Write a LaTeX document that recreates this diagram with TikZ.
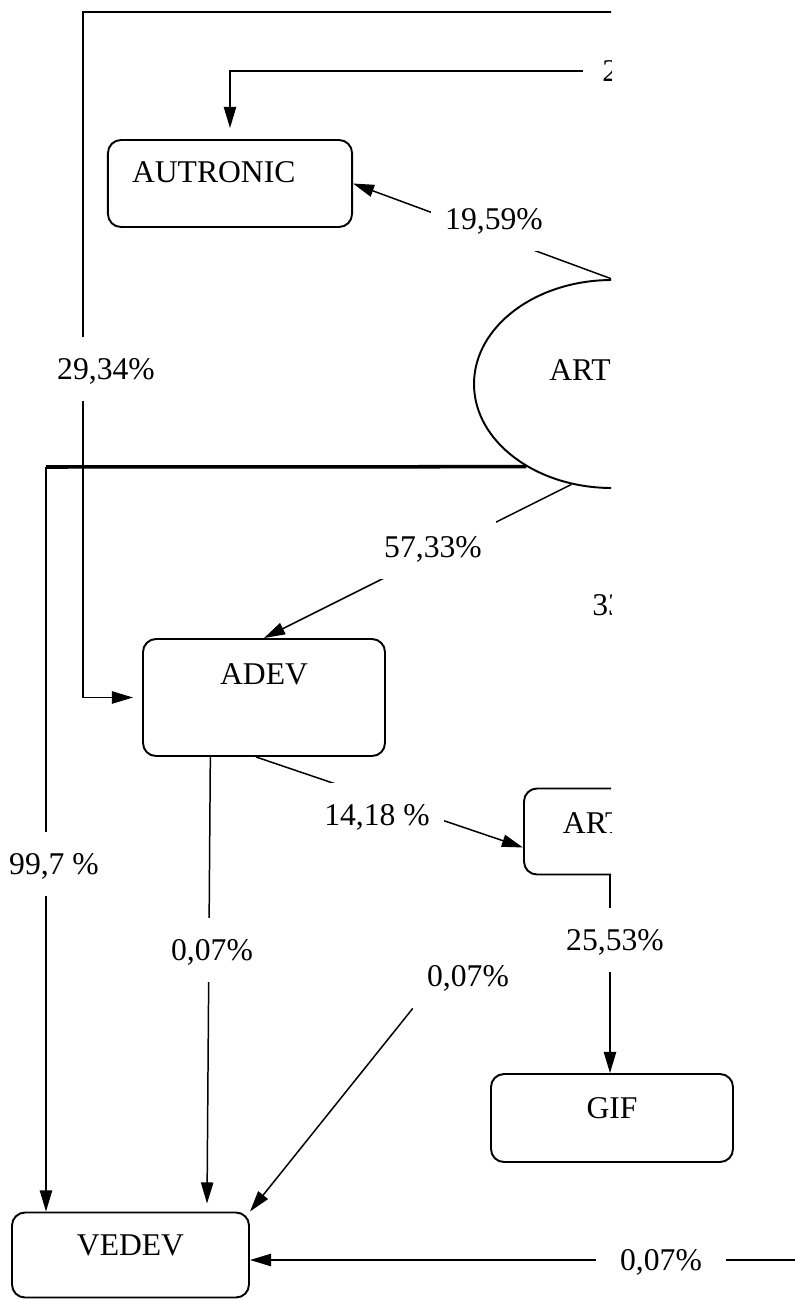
\documentclass[tikz,border=0pt]{standalone}
\usepackage{fontspec}
\setmainfont{Liberation Serif}
\usetikzlibrary{arrows.meta, calc, shapes.geometric}

\begin{document}
\begin{tikzpicture}[x=0.2mm, y=-0.2mm,
    every node/.style={font=\fontsize{18}{22}\selectfont},
    box/.style={draw, rounded corners=2.6mm, line width=1.1pt, text height=12.5pt, text depth=12.5pt},
    lbl/.style={fill=white, inner xsep=8pt, inner ysep=12pt, text height=12.5pt, text depth=0pt},
    arr/.style={-{Triangle[length=12pt, width=7pt]}, line width=0.85pt}]
    \useasboundingbox (0,0) rectangle (795,1299);
    \begin{scope}
        \clip (0,0) rectangle (611,905) (0,905) rectangle (795,1299);
        % Boxes
        \node[box, minimum width=48.8mm, minimum height=17.4mm, align=left, text width=111.5pt, inner xsep=13.7pt, text depth=13.1pt] (autronic) at (230,183.5) {AUTRONIC};
        \node[box, minimum width=48.4mm, minimum height=23.4mm, text depth=27pt] (adev) at (264,697.5) {ADEV};
        \node[box, minimum width=34.4mm, minimum height=17.2mm, align=left, text width=53.5pt, inner xsep=22.2pt, text depth=10.8pt] (artb) at (610,831.5) {ART};
        \node[box, minimum width=48.4mm, minimum height=17.6mm] (gif) at (612,1118) {GIF};
        \node[box, minimum width=47.4mm, minimum height=17mm] (vedev) at (130.5,1255) {VEDEV};
        \node[ellipse, draw, line width=1.1pt, minimum width=55.2mm, minimum height=41.6mm] (art) at (612,384) {};
        \node[anchor=west, inner sep=0pt] (arttext) at (549,370) {ART};
        % Free labels
        \node[lbl, anchor=west, inner xsep=10.8pt] (l2) at (583,71) {2};
        \node[anchor=west, inner sep=0pt] (l33) at (592,605) {33};
        \node[lbl] (l007b) at (468,976) {0,07\%};
        \coordinate (topsrc) at (700,12);
        \coordinate (ctl) at (83,12);
        \coordinate (c1) at (46,467);
        \coordinate (botsrc) at (800,1260);
        % Connectors
        \draw[arr, shorten >=1.8mm] (topsrc) -- (ctl) |- (adev.west);
        \draw[arr, shorten >=2.2mm] (l2) -| (autronic);
        \draw[arr] (art.north) -- (autronic.east);
        \draw[arr] (art.248) -- (adev.north);
        \draw[line width=2pt] (art.224) -- (c1);
        \draw[arr] (c1) -- (c1 |- vedev.north);
        \draw[arr, shorten >=1.6mm] ($(adev.south west)!0.28!(adev.south east)$) -- ($(vedev.north west)!0.82!(vedev.north east)$);
        \draw[arr] ($(adev.south)+(-8,0)$) -- ($(artb.west)+(0,16)$);
        \draw[arr] (artb.south) -- (artb.south |- gif.north);
        \draw[arr] (l007b.south west) -- (vedev.north east);
        \draw[arr] (botsrc) -- ($(vedev.east)+(0,5)$);
        % Percentages
        \node[lbl] (l2934) at (106,369) {29,34\%};
        \node[lbl] (l1959) at (494,219) {19,59\%};
        \node[lbl] (l5733) at (433,547) {57,33\%};
        \node[lbl] (l997) at (54,864) {99,7 \%};
        \node[lbl] (l007a) at (212,950) {0,07\%};
        \node[lbl] (l1418) at (377,815) {14,18 \%};
        \node[lbl] (l2553) at (615,940) {25,53\%};
        \node[lbl, inner xsep=14pt] (l007c) at (661,1260) {0,07\%};
    \end{scope}
\end{tikzpicture}
\end{document}
